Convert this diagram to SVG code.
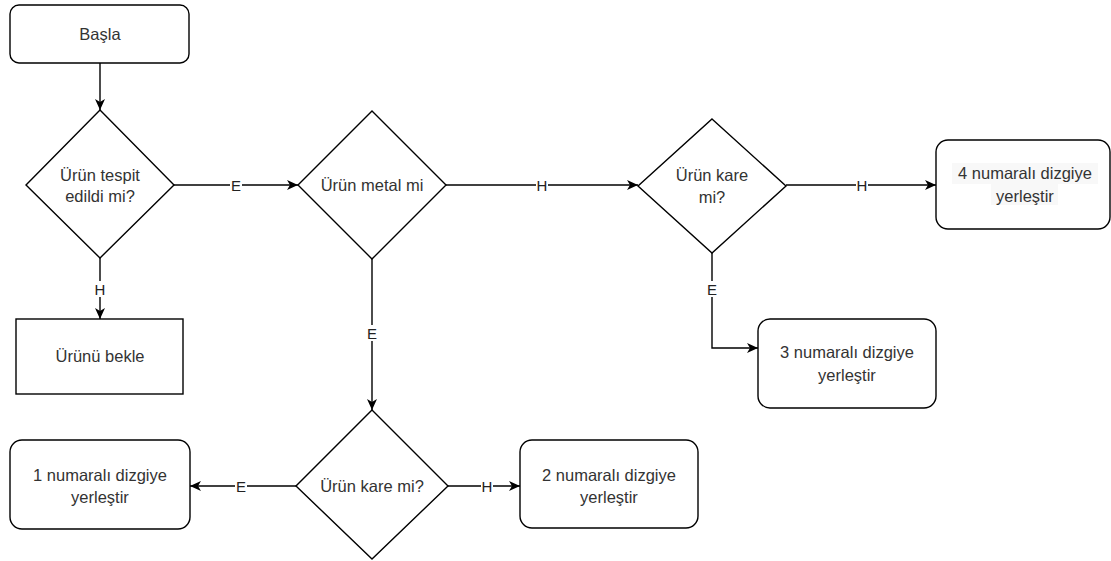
<svg xmlns="http://www.w3.org/2000/svg" width="1111" height="561" viewBox="0 0 1111 561">
<defs>
<marker id="arr" markerUnits="userSpaceOnUse" markerWidth="12" markerHeight="10" viewBox="0 0 12 10" refX="11" refY="5" orient="auto">
<path d="M0,0 L11,5 L0,10 L3,5 z" fill="#000"/>
</marker>
<style>
.node{fill:#fff;stroke:#000;stroke-width:1.4}
.t{font-family:"Liberation Sans",Arial,sans-serif;font-size:16.5px;fill:#333;text-anchor:middle;dominant-baseline:central}
.e{fill:none;stroke:#000;stroke-width:1.4;marker-end:url(#arr)}
.lbl{font-family:"Liberation Sans",Arial,sans-serif;font-size:15px;fill:#222;text-anchor:middle;dominant-baseline:central}
.lb{fill:#fff}
</style>
</defs>
<rect width="1111" height="561" fill="#fff"/>
<g id="connectors">
<path class="e" d="M100,63 V110"/>
<path class="e" d="M174,185 H298"/>
<path class="e" d="M446,185 H638"/>
<path class="e" d="M786,185 H936"/>
<path class="e" d="M712,253 V348 H758"/>
<path class="e" d="M100,258 V319"/>
<path class="e" d="M372,259 V410"/>
<path class="e" d="M296,486 H190"/>
<path class="e" d="M448,486 H520"/>
<g id="labels">
<rect class="lb" x="230" y="177" width="12" height="16"/><text class="lbl" x="236" y="185">E</text>
<rect class="lb" x="536" y="177" width="12" height="16"/><text class="lbl" x="542" y="185">H</text>
<rect class="lb" x="856" y="177" width="12" height="16"/><text class="lbl" x="862" y="185">H</text>
<rect class="lb" x="706" y="281" width="12" height="16"/><text class="lbl" x="712" y="289">E</text>
<rect class="lb" x="94" y="281" width="12" height="16"/><text class="lbl" x="100" y="289">H</text>
<rect class="lb" x="366" y="325" width="12" height="16"/><text class="lbl" x="372" y="333">E</text>
<rect class="lb" x="235" y="478" width="12" height="16"/><text class="lbl" x="241" y="486">E</text>
<rect class="lb" x="481" y="478" width="12" height="16"/><text class="lbl" x="487" y="486">H</text>
</g>
</g>
<g id="start">
<rect class="node" x="10" y="5" width="179" height="58" rx="9"/>
<text class="t" x="100" y="34">Başla</text>
</g>
<g id="d1">
<path class="node" d="M100,110 L174,185 L100,258 L26,185 Z"/>
<text class="t" x="100" y="175">Ürün tespit</text>
<text class="t" x="100" y="196">edildi mi?</text>
</g>
<g id="wait">
<rect class="node" x="16" y="319" width="167" height="75"/>
<text class="t" x="100" y="356">Ürünü bekle</text>
</g>
<g id="d2">
<path class="node" d="M372,111 L446,185 L372,259 L298,185 Z"/>
<text class="t" x="372" y="185">Ürün metal mi</text>
</g>
<g id="d3">
<path class="node" d="M712,119 L786,186 L712,253 L638,186 Z"/>
<text class="t" x="712" y="175">Ürün kare</text>
<text class="t" x="712" y="197">mi?</text>
</g>
<g id="b4">
<rect class="node" x="936" y="140" width="174" height="89" rx="12"/>
<rect x="952" y="163" width="146" height="21" fill="#f8f8f8"/>
<rect x="991" y="184" width="67" height="21" fill="#f8f8f8"/>
<text class="t" x="1025" y="173">4 numaralı dizgiye</text>
<text class="t" x="1025" y="196">yerleştir</text>
</g>
<g id="b3">
<rect class="node" x="758" y="319" width="178" height="89" rx="12"/>
<text class="t" x="847" y="352">3 numaralı dizgiye</text>
<text class="t" x="847" y="375">yerleştir</text>
</g>
<g id="d4">
<path class="node" d="M372,410 L448,486 L372,559 L296,486 Z"/>
<text class="t" x="372" y="486">Ürün kare mi?</text>
</g>
<g id="b1">
<rect class="node" x="10" y="440" width="180" height="89" rx="12"/>
<text class="t" x="100" y="475">1 numaralı dizgiye</text>
<text class="t" x="100" y="497">yerleştir</text>
</g>
<g id="b2">
<rect class="node" x="520" y="440" width="178" height="88" rx="12"/>
<text class="t" x="609" y="475">2 numaralı dizgiye</text>
<text class="t" x="609" y="497">yerleştir</text>
</g>
</svg>
